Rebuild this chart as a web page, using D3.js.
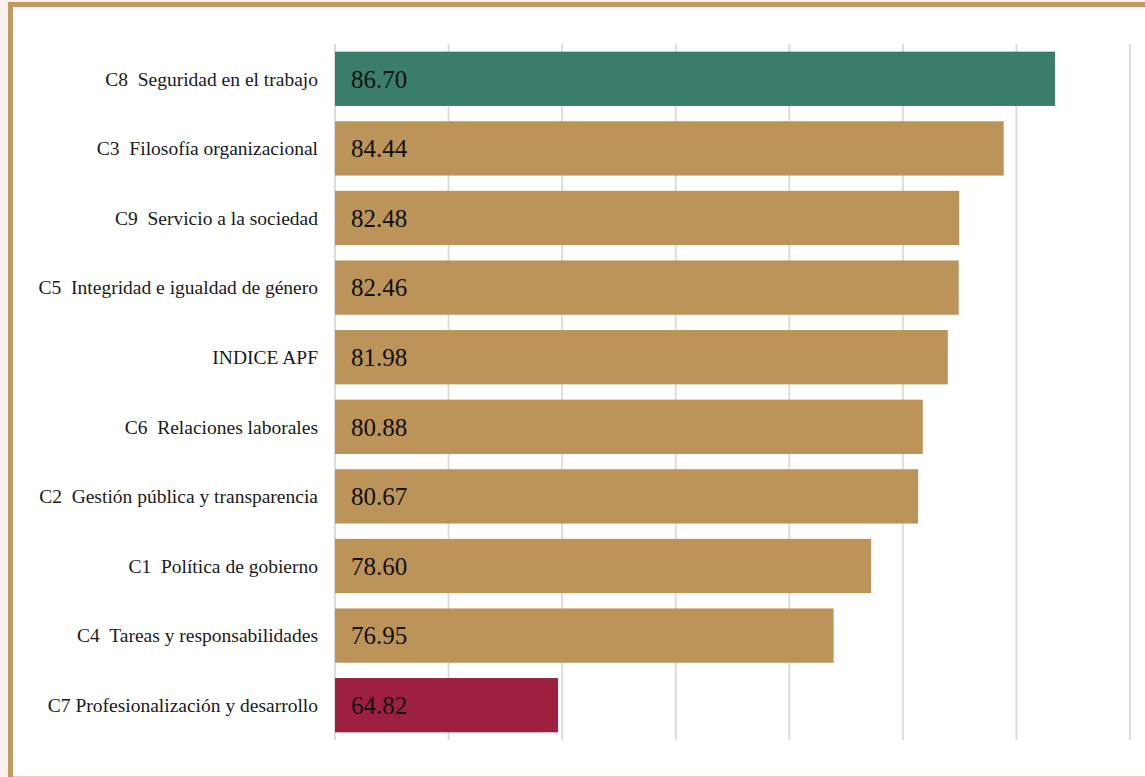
<!DOCTYPE html>
<html>
<head>
<meta charset="utf-8">
<script src="https://cdn.jsdelivr.net/npm/d3@7"></script>
<style>
  html, body { margin: 0; padding: 0; background: #f7f2ec; overflow: hidden; }
  text { white-space: pre; }
</style>
</head>
<body>
<svg id="chart" width="1145" height="777"></svg>
<script>
// datos del gráfico
var categories = [
  "C8  Seguridad en el trabajo",
  "C3  Filosofía organizacional",
  "C9  Servicio a la sociedad",
  "C5  Integridad e igualdad de género",
  "INDICE APF",
  "C6  Relaciones laborales",
  "C2  Gestión pública y transparencia",
  "C1  Política de gobierno",
  "C4  Tareas y responsabilidades",
  "C7 Profesionalización y desarrollo"
];
var values = [86.70, 84.44, 82.48, 82.46, 81.98, 80.88, 80.67, 78.60, 76.95, 64.82];
var xTicks = [55, 60, 65, 70, 75, 80, 85, 90];

var svg = d3.select('#chart');

// marco
svg.append('rect')
  .attr('x', 10.5)
  .attr('y', 4.5)
  .attr('width', 1200)
  .attr('height', 772)
  .style('fill', '#ffffff')
  .style('stroke', '#c09a5f')
  .style('stroke-width', 5);
// línea inferior clara
svg.append('line')
  .attr('x1', 13).attr('x2', 1145)
  .attr('y1', 776.5).attr('y2', 776.5)
  .style('stroke', '#e3d3b8')
  .style('stroke-width', 1);
svg.append('rect')
  .attr('x', 13).attr('y', 7)
  .attr('width', 1140).attr('height', 769)
  .style('fill', '#ffffff');

var x = d3.scaleLinear().domain([55, 90]).range([335, 1130]);
var y = d3.scaleBand().domain(categories).range([44, 740]).paddingInner(0.22).paddingOuter(0.11);

var maxV = d3.max(values), minV = d3.min(values);
function barColor(v) {
  if (v === maxV) return '#3a7d6b';
  if (v === minV) return '#9e2040';
  return '#bc9459';
}

// líneas de cuadrícula
svg.append('g').selectAll('line')
  .data(xTicks)
  .enter().append('line')
  .attr('x1', function(d) { return x(d); })
  .attr('x2', function(d) { return x(d); })
  .attr('y1', 44)
  .attr('y2', 740)
  .style('stroke', '#dcdcdc')
  .style('stroke-width', 2);

var rows = categories.map(function(c, i) { return { name: c, value: values[i] }; });

svg.append('g').selectAll('rect')
  .data(rows)
  .enter().append('rect')
  .attr('x', x(55))
  .attr('y', function(d) { return y(d.name); })
  .attr('width', function(d) { return x(d.value) - x(55); })
  .attr('height', y.bandwidth())
  .style('fill', function(d) { return barColor(d.value); });

// etiquetas de categoría
svg.append('g').selectAll('text')
  .data(rows)
  .enter().append('text')
  .attr('x', 318)
  .attr('y', function(d) { return y(d.name) + y.bandwidth() / 2; })
  .attr('dy', '0.35em')
  .attr('text-anchor', 'end')
  .attr('xml:space', 'preserve')
  .style('font-family', '"Liberation Serif", "DejaVu Serif", serif')
  .style('font-size', '19.5px')
  .style('fill', '#1a1a1a')
  .text(function(d) { return d.name; });

// valores
svg.append('g').selectAll('text')
  .data(rows)
  .enter().append('text')
  .attr('x', x(55) + 16)
  .attr('y', function(d) { return y(d.name) + y.bandwidth() / 2; })
  .attr('dy', '0.35em')
  .style('font-family', '"Liberation Serif", "DejaVu Serif", serif')
  .style('font-size', '25px')
  .style('fill', '#111111')
  .text(function(d) { return d.value.toFixed(2); });
</script>
</body>
</html>
